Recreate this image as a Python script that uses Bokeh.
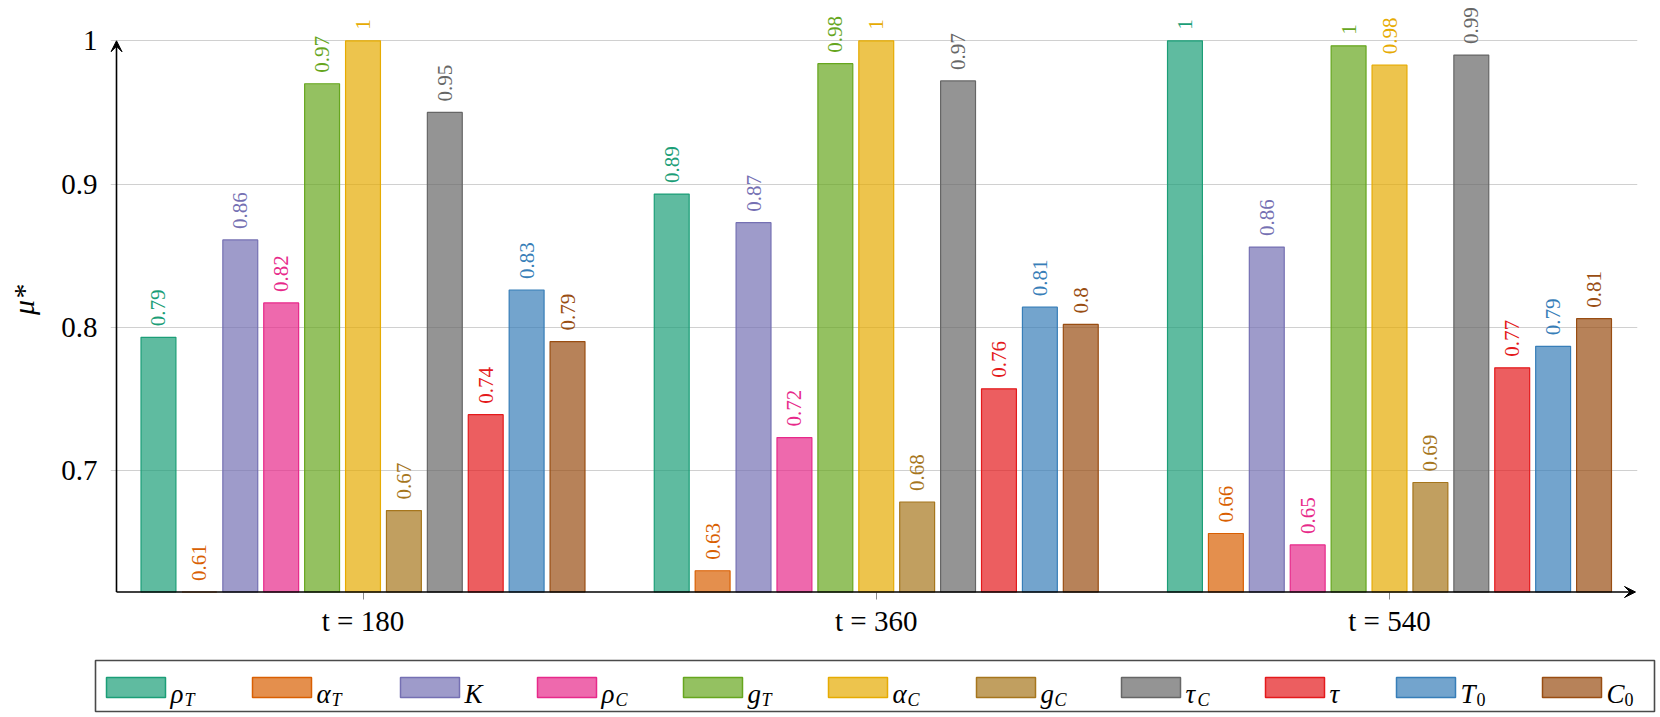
import numpy as np
from bokeh.plotting import figure
from bokeh.models import ColumnDataSource, Range1d, FixedTicker, Arrow, VeeHead
from bokeh.embed import file_html
from bokeh.resources import INLINE
from bokeh.core.properties import value

# ---------------- data ----------------
time_labels = ["t = 180", "t = 360", "t = 540"]
param_main = ["ρ", "α", "K", "ρ", "g", "α", "g", "τ", "τ", "T", "C"]
param_sub = ["T", "T", "", "C", "T", "C", "C", "C", "", "0", "0"]
colors = ["#1b9e77", "#d95f02", "#7570b3", "#e7298a", "#66a61e", "#e6ab02",
          "#a6761d", "#666666", "#e41a1c", "#377eb8", "#994d12"]
mu_180 = [0.793, 0.610, 0.861, 0.817, 0.970, 1.000, 0.672, 0.950, 0.739, 0.826, 0.790]
mu_360 = [0.893, 0.630, 0.873, 0.723, 0.984, 1.000, 0.678, 0.972, 0.757, 0.814, 0.802]
mu_540 = [1.000, 0.656, 0.856, 0.648, 0.9965, 0.983, 0.6916, 0.990, 0.7717, 0.7867, 0.806]
y_ticks = [0.7, 0.8, 0.9, 1.0]

# ---------------- layout constants ----------------
FONT = "Liberation Serif"
W = 1656
H_MAIN = 644
H_LEG = 73
BORDER_L, BORDER_T, BORDER_B = 110, 0, 45
FRAME_W = 1527
BORDER_R = W - BORDER_L - FRAME_W
FRAME_H = H_MAIN - BORDER_T - BORDER_B
PX_X = 513.25                     # px per group
PX_Y = 1432.3                     # px per unit of mu*
X_MIN = -(252.5) / PX_X
X_MAX = X_MIN + FRAME_W / PX_X
X_AX = X_MIN + 6 / PX_X           # y-axis line position
Y_MAX = 1.0 + 40.3 / PX_Y
Y_MIN = Y_MAX - FRAME_H / PX_Y
Y_AX = Y_MIN + 7.5 / PX_Y         # x-axis line position
BAR_STEP = 0.0797
BAR_W = 0.068
LABEL_GAP = 11  # px above bar top

groups = [mu_180, mu_360, mu_540]
n = len(param_main)
xs, tops, cols, labs, lys = [], [], [], [], []
for g, vals in enumerate(groups):
    for k, v in enumerate(vals):
        xs.append(g + (k - (n - 1) / 2) * BAR_STEP)
        top = max(v, Y_AX)
        tops.append(top)
        cols.append(colors[k])
        labs.append(f"{round(v, 2):g}")
        lys.append(top + LABEL_GAP / PX_Y)
src = ColumnDataSource(dict(x=xs, top=tops, color=cols, label=labs, ly=lys))

p = figure(width=W, height=H_MAIN, x_range=Range1d(X_MIN, X_MAX), y_range=Range1d(Y_MIN, Y_MAX),
           output_backend="svg", toolbar_location=None,
           min_border_left=BORDER_L, min_border_right=BORDER_R,
           min_border_top=BORDER_T, min_border_bottom=BORDER_B)
p.outline_line_color = None
p.background_fill_color = "white"
p.border_fill_color = "white"

p.xgrid.visible = False
p.ygrid.ticker = FixedTicker(ticks=y_ticks)
p.ygrid.grid_line_color = "#d0d0d0"
p.ygrid.grid_line_width = 1

p.yaxis.ticker = FixedTicker(ticks=y_ticks)
p.yaxis.major_label_overrides = {1: "1"}
p.yaxis.axis_line_color = None
p.yaxis.major_tick_out = 0
p.yaxis.major_tick_in = 0
p.yaxis.minor_tick_line_color = None
p.yaxis.major_label_standoff = 13
p.yaxis.major_label_text_font = FONT
p.yaxis.major_label_text_font_size = "29px"
p.yaxis.major_label_text_color = "black"
p.yaxis.axis_label = "μ*"
p.yaxis.axis_label_text_font = FONT
p.yaxis.axis_label_text_font_style = "italic"
p.yaxis.axis_label_text_font_size = "30px"
p.yaxis.axis_label_text_color = "black"
p.yaxis.axis_label_standoff = 18

p.xaxis.ticker = FixedTicker(ticks=list(range(len(time_labels))))
p.xaxis.major_label_overrides = {i: s for i, s in enumerate(time_labels)}
p.xaxis.axis_line_color = None
p.xaxis.major_tick_out = 0
p.xaxis.major_tick_in = 7
p.xaxis.major_tick_line_color = "#8a8a8a"
p.xaxis.minor_tick_line_color = None
p.xaxis.major_label_standoff = 5
p.xaxis.major_label_text_font = FONT
p.xaxis.major_label_text_font_size = "29px"
p.xaxis.major_label_text_color = "black"

p.vbar(x="x", top="top", bottom=Y_AX, width=BAR_W, fill_color="color", fill_alpha=0.7,
       line_color="color", line_width=1.2, source=src)
p.text(x="x", y="ly", text="label", angle=np.pi / 2, text_align="left", text_baseline="middle",
       text_color="color", text_font=value(FONT), text_font_size="21px", source=src)

# axis arrows
p.add_layout(Arrow(end=VeeHead(size=11, fill_color="black", line_color="black", line_width=1),
                   x_start=X_AX, y_start=Y_AX, x_end=X_AX, y_end=1.0,
                   line_color="black", line_width=1.6))
p.add_layout(Arrow(end=VeeHead(size=11, fill_color="black", line_color="black", line_width=1),
                   x_start=X_AX, y_start=Y_AX, x_end=X_MAX - 2 / PX_X, y_end=Y_AX,
                   line_color="black", line_width=1.6))

# ---------------- legend ----------------
MAIN_W = {"ρ": 18, "α": 20, "K": 22, "g": 17, "τ": 16, "T": 20, "C": 20}   # layout width
MAIN_ADV = {"ρ": 14, "α": 15, "K": 19, "g": 14, "τ": 12, "T": 16, "C": 18}  # subscript offset
SUB_W = {"T": 13, "C": 13, "0": 11, "": 0}
PATCH_W, PATCH_TOP, PATCH_BOT = 59, 33, 53
leg = figure(width=W, height=H_LEG, x_range=Range1d(0, W), y_range=Range1d(H_LEG, 0),
             output_backend="svg", toolbar_location=None, x_axis_type=None, y_axis_type=None,
             min_border=0)
leg.outline_line_color = None
leg.xgrid.visible = False
leg.ygrid.visible = False
leg.quad(left=[95], right=[1654], top=[16], bottom=[67], fill_color=None,
         line_color="#4a4a4a", line_width=1.6)

pl, pr, mx, sx, sstyle = [], [], [], [], []
x = 106
for i in range(n):
    pl.append(x)
    pr.append(x + PATCH_W)
    tx = x + 64
    mx.append(tx)
    sx.append(tx + MAIN_ADV[param_main[i]])
    sstyle.append("normal" if param_sub[i].isdigit() else "italic")
    x = tx + MAIN_W[param_main[i]] + SUB_W[param_sub[i]] + 51
leg.quad(left=pl, right=pr, top=[PATCH_TOP] * n, bottom=[PATCH_BOT] * n,
         fill_color=colors, fill_alpha=0.7, line_color=colors, line_width=1.5)
leg.text(x=mx, y=[49] * n, text=param_main, text_font=value(FONT), text_font_style="italic",
         text_font_size="27px", text_baseline="alphabetic", text_align="left", text_color="black")
lsrc = ColumnDataSource(dict(x=sx, y=[55] * n, t=param_sub, s=sstyle))
leg.text(x="x", y="y", text="t", text_font=value(FONT), text_font_style="s",
         text_font_size="18px", text_baseline="alphabetic", text_align="left",
         text_color="black", source=lsrc)

open("out.html", "w").write(file_html([p, leg], INLINE))
